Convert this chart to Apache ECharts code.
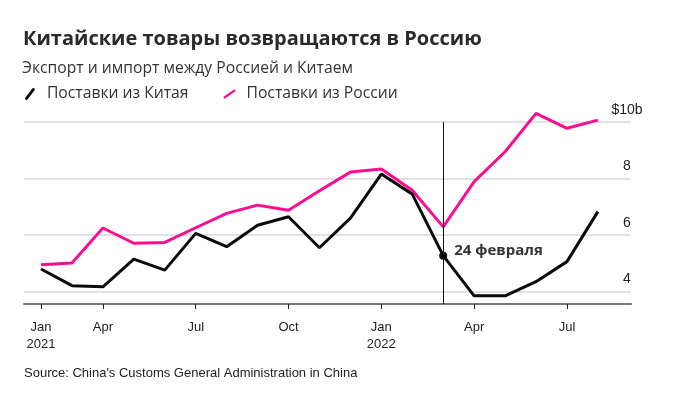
<!DOCTYPE html>
<html>
<head>
<meta charset="utf-8">
<script src="https://cdn.jsdelivr.net/npm/echarts@6/dist/echarts.min.js"></script>
<style>
html,body{margin:0;padding:0;background:#fff;}
#chart{width:685px;height:395px;}
</style>
</head>
<body>
<div id="chart"></div>
<script>
// Months Feb 2021 .. Aug 2022 (first point sits at the "Jan 2021" tick)
const months = ['2021-02','2021-03','2021-04','2021-05','2021-06','2021-07','2021-08','2021-09','2021-10','2021-11','2021-12',
                '2022-01','2022-02','2022-03','2022-04','2022-05','2022-06','2022-07','2022-08'];
const fromChina  = [4.80, 4.21, 4.17, 5.15, 4.76, 6.06, 5.59, 6.35, 6.65, 5.55, 6.60, 8.16, 7.45, 5.27, 3.85, 3.85, 4.35, 5.06, 6.83];
const fromRussia = [4.95, 5.01, 6.25, 5.71, 5.74, 6.26, 6.77, 7.06, 6.88, 7.57, 8.23, 8.34, 7.59, 6.29, 7.89, 8.95, 10.31, 9.78, 10.07];
const xTickIndex  = [0, 2, 5, 8, 11, 14, 17];
const xTickLabels = ['Jan\n2021', 'Apr', 'Jul', 'Oct', 'Jan\n2022', 'Apr', 'Jul'];
const yTickValues = [4, 6, 8, 10];
const yTickLabels = ['4', '6', '8', '$10b'];
const eventIndex = 13;
const eventLabel = '24 февраля';
const seriesNames = ['Поставки из Китая', 'Поставки из России'];
const titleText = 'Китайские товары возвращаются в Россию';
const subtitleText = 'Экспорт и импорт между Россией и Китаем';
const sourceText = "Source: China's Customs General Administration in China";

const Y_MIN = 3.56, Y_MAX = 10.57;
const chart = echarts.init(document.getElementById('chart'), null, {renderer: 'canvas'});
const pink = '#fc0d8d';
const ink = '#0a0a0a';
const slashBlack = 'path://M7.6,0.4 Q8.6,-0.4 9.6,0.6 Q10.2,1.5 9.6,2.2 L2.6,11.6 Q1.6,12.4 0.5,11.5 Q-0.2,10.6 0.4,9.8 Z';
const slashPink  = 'path://M12.6,0.3 Q13.8,-0.3 14.6,0.8 Q15.1,1.8 14.3,2.5 L2.6,10.7 Q1.4,11.3 0.5,10.3 Q0,9.3 0.8,8.6 Z';

const option = {
  animation: false,
  backgroundColor: '#fff',
  title: [
    {text: titleText, left: 23, top: 29, padding: 0,
     textStyle: {fontFamily: 'Open Sans', fontWeight: 'bold', fontSize: 20, color: '#2a2a2a'}},
    {text: subtitleText, left: 22, top: 61, padding: 0,
     textStyle: {fontFamily: 'Open Sans', fontWeight: 'normal', fontSize: 15.7, color: '#333'}},
    {text: sourceText, left: 24, top: 367, padding: 0,
     textStyle: {fontFamily: 'Liberation Sans', fontWeight: 'normal', fontSize: 13, color: '#222'}}
  ],
  legend: {
    left: 25, top: 86, padding: 0, itemGap: 35, itemWidth: 12, itemHeight: 12,
    textStyle: {fontFamily: 'Open Sans', fontSize: 15.7, color: '#333', padding: [0, 0, 0, 6]},
    data: [
      {name: seriesNames[0], icon: slashBlack, itemStyle: {color: ink}},
      {name: seriesNames[1], icon: slashPink, itemStyle: {color: pink}}
    ]
  },
  grid: {left: 24, right: 54, top: 106, bottom: 91},
  xAxis: {
    type: 'value', min: -0.55, max: 19.07,
    axisLine: {show: true, lineStyle: {color: '#777', width: 2}},
    axisTick: {show: true, customValues: xTickIndex, length: 5, lineStyle: {color: '#222', width: 1}},
    axisLabel: {customValues: xTickIndex, margin: 15, fontFamily: 'Liberation Sans', fontSize: 13, color: '#222', lineHeight: 17,
      formatter: v => { const k = xTickIndex.indexOf(Math.round(v)); return k >= 0 ? xTickLabels[k] : ''; }},
    splitLine: {show: false}
  },
  yAxis: {
    type: 'value', min: Y_MIN, max: Y_MAX, position: 'right',
    axisLine: {show: false}, axisTick: {show: false, customValues: yTickValues},
    axisLabel: {customValues: yTickValues, inside: false, margin: -4, align: 'center', verticalAlign: 'bottom',
      padding: [0, 0, 5, 0], fontFamily: 'Liberation Sans', fontSize: 14, color: '#222',
      formatter: v => { const k = yTickValues.indexOf(Math.round(v)); return k >= 0 ? yTickLabels[k] : ''; }},
    splitLine: {show: true, customValues: yTickValues, lineStyle: {color: '#e2e2e2', width: 2}}
  },
  series: [
    {
      name: seriesNames[1], type: 'line', data: fromRussia.map((v, i) => [i, v]),
      symbol: 'none', lineStyle: {color: pink, width: 3}, itemStyle: {color: pink}, z: 3
    },
    {
      name: seriesNames[0], type: 'line', data: fromChina.map((v, i) => [i, v]),
      symbol: 'none', lineStyle: {color: ink, width: 3}, itemStyle: {color: ink}, z: 4,
      markLine: {
        silent: true, symbol: ['none', 'none'], label: {show: false}, z: 5,
        lineStyle: {color: '#111', width: 1, type: 'solid'},
        emphasis: {disabled: true},
        data: [[{coord: [eventIndex, yTickValues[3]]}, {coord: [eventIndex, Y_MIN]}]]
      },
      markPoint: {
        silent: true, symbol: 'circle', symbolSize: 8, itemStyle: {color: ink}, z: 6,
        label: {show: true, position: 'right', distance: 5, offset: [0, -5], formatter: eventLabel,
          fontFamily: 'Open Sans', fontWeight: 'bold', fontSize: 15, color: '#333',
          backgroundColor: 'rgba(255,255,255,0.85)', padding: [4, 2, 2, 2]},
        data: [{coord: [eventIndex, fromChina[eventIndex]]}]
      }
    }
  ]
};
chart.setOption(option);
</script>
</body>
</html>
